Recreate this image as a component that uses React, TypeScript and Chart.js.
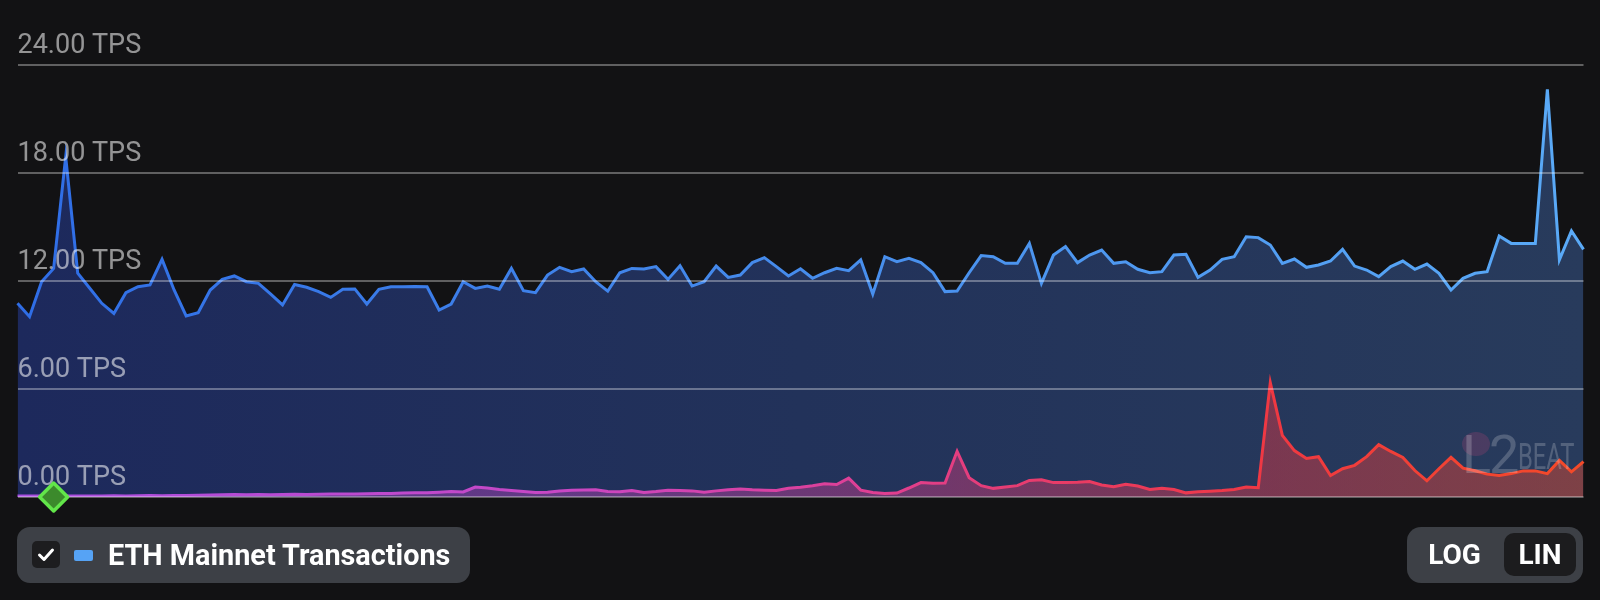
import React, { useEffect, useRef } from "react";
import { Chart, registerables } from "chart.js";

Chart.register(...registerables);

// ETH Mainnet transactions per second (blue series)
const ethMainnetTps = [
  10.76, 10.02, 11.96, 12.7, 18.9, 12.43, 11.6, 10.76, 10.2, 11.35,
  11.68, 11.78, 13.2, 11.5, 10.06, 10.24, 11.5, 12.09, 12.28, 11.96,
  11.87, 11.28, 10.67, 11.81, 11.65, 11.41, 11.09, 11.54, 11.56, 10.72,
  11.54, 11.68, 11.68, 11.7, 11.68, 10.39, 10.72, 11.96, 11.59, 11.72,
  11.54, 12.7, 11.46, 11.35, 12.33, 12.76, 12.52, 12.67, 11.96, 11.44,
  12.46, 12.7, 12.67, 12.8, 12.09, 12.85, 11.72, 11.96, 12.83, 12.2,
  12.33, 13.02, 13.3, 12.8, 12.28, 12.68, 12.15, 12.46, 12.7, 12.57,
  13.17, 11.28, 13.35, 13.07, 13.26, 13.02, 12.46, 11.41, 11.44, 12.46,
  13.41, 13.35, 12.98, 12.98, 14.09, 11.87, 13.44, 13.91, 13.02, 13.44,
  13.72, 12.98, 13.07, 12.65, 12.46, 12.52, 13.44, 13.48, 12.2, 12.61,
  13.2, 13.35, 14.46, 14.41, 14.0, 12.98, 13.22, 12.76, 12.89, 13.11,
  13.76, 12.83, 12.61, 12.24, 12.8, 13.11, 12.65, 12.94, 12.43, 11.5,
  12.15, 12.43, 12.52, 14.5, 14.09, 14.09, 14.09, 22.65, 13.17, 14.78,
  13.76,
];

// Second (pink → red) series
const layer2Tps = [
  0.05, 0.05, 0.05, 0.06, 0.06, 0.05, 0.06, 0.06, 0.07, 0.06,
  0.07, 0.08, 0.07, 0.08, 0.09, 0.1, 0.11, 0.13, 0.14, 0.13,
  0.14, 0.13, 0.14, 0.15, 0.14, 0.15, 0.16, 0.17, 0.16, 0.18,
  0.2, 0.19, 0.22, 0.24, 0.23, 0.27, 0.3, 0.28, 0.55, 0.5,
  0.42, 0.36, 0.3, 0.25, 0.27, 0.33, 0.38, 0.39, 0.4, 0.31,
  0.29, 0.36, 0.25, 0.3, 0.38, 0.36, 0.34, 0.27, 0.34, 0.4,
  0.44, 0.4, 0.38, 0.36, 0.48, 0.54, 0.62, 0.73, 0.69, 1.05,
  0.38, 0.25, 0.19, 0.22, 0.5, 0.8, 0.77, 0.78, 2.54, 1.07,
  0.63, 0.48, 0.55, 0.63, 0.92, 0.96, 0.8, 0.8, 0.82, 0.86,
  0.67, 0.57, 0.71, 0.61, 0.42, 0.48, 0.42, 0.23, 0.29, 0.32,
  0.36, 0.42, 0.55, 0.52, 6.35, 3.42, 2.58, 2.14, 2.24, 1.19,
  1.57, 1.76, 2.24, 2.91, 2.53, 2.2, 1.47, 0.9, 1.57, 2.2,
  1.6, 1.46, 1.27, 1.2, 1.3, 1.45, 1.45, 1.3, 2.03, 1.4,
  1.96,
];

const categories = ethMainnetTps.map((_, i) => `Day ${i + 1}`);
const yTickValues = [0, 6, 12, 18, 24];
const milestoneIndex = 3;
const legendLabel = "ETH Mainnet Transactions";
const scaleOptions = ["LOG", "LIN"];

type Stop = [number, string];

function hGrad(chart: any, stops: Stop[]) {
  const { ctx, chartArea } = chart;
  if (!chartArea) return stops[0][1];
  const g = ctx.createLinearGradient(chartArea.left, 0, chartArea.right, 0);
  stops.forEach(([o, c]) => g.addColorStop(o, c));
  return g;
}

const milestonePlugin = {
  id: "milestone",
  afterDraw(chart: any) {
    const x = chart.scales.x.getPixelForValue(milestoneIndex);
    const y = chart.scales.y.getPixelForValue(0);
    const c = chart.ctx;
    const r = 14;
    c.save();
    c.beginPath();
    c.moveTo(x, y - r);
    c.lineTo(x + r, y);
    c.lineTo(x, y + r);
    c.lineTo(x - r, y);
    c.closePath();
    c.fillStyle = "#3c8a2c";
    c.fill();
    c.lineWidth = 3.5;
    c.lineJoin = "round";
    c.strokeStyle = "#62e64a";
    c.stroke();
    c.restore();
  },
};

function ChartCanvas() {
  const ref = useRef<HTMLCanvasElement | null>(null);
  useEffect(() => {
    if (!ref.current) return;
    const chart = new Chart(ref.current, {
      type: "line",
      data: {
        labels: categories,
        datasets: [
          {
            label: "L2",
            data: layer2Tps,
            order: 1,
            borderWidth: 3,
            pointRadius: 0,
            tension: 0,
            fill: "origin",
            borderColor: (ctx: any) =>
              hGrad(ctx.chart, [
                [0, "#a84ee0"],
                [0.35, "#c947c4"],
                [0.55, "#e03f92"],
                [0.68, "#ea3b62"],
                [0.8, "#ef3842"],
                [1, "#f44a28"],
              ]),
            backgroundColor: (ctx: any) =>
              hGrad(ctx.chart, [
                [0, "rgba(168,78,224,0.38)"],
                [0.35, "rgba(201,71,196,0.4)"],
                [0.55, "rgba(224,63,146,0.4)"],
                [0.68, "rgba(234,59,98,0.42)"],
                [0.8, "rgba(239,56,66,0.42)"],
                [1, "rgba(244,74,40,0.42)"],
              ]),
          },
          {
            label: legendLabel,
            data: ethMainnetTps,
            order: 2,
            borderWidth: 3,
            pointRadius: 0,
            tension: 0,
            fill: "origin",
            borderColor: (ctx: any) =>
              hGrad(ctx.chart, [
                [0, "#2f6de6"],
                [0.5, "#468cec"],
                [1, "#5aaaf7"],
              ]),
            backgroundColor: (ctx: any) =>
              hGrad(ctx.chart, [
                [0, "rgb(29,41,92)"],
                [0.5, "rgb(34,50,90)"],
                [1, "rgb(40,59,92)"],
              ]),
          },
        ],
      },
      options: {
        responsive: false,
        animation: false,
        layout: { padding: { left: 17.5, right: 16.5, top: 65, bottom: 103 } },
        plugins: { legend: { display: false }, tooltip: { enabled: false } },
        scales: {
          x: { display: false },
          y: {
            min: 0,
            max: 24,
            position: "left",
            border: { display: false },
            afterFit: (s: any) => {
              s.width = 0;
            },
            afterBuildTicks: (s: any) => {
              s.ticks = yTickValues.map((v) => ({ value: v }));
            },
            grid: {
              z: 1,
              drawTicks: false,
              color: "rgba(255,255,255,0.33)",
              lineWidth: 2,
            },
            ticks: {
              z: 2,
              mirror: true,
              padding: 0,
              labelOffset: -19,
              color: "rgba(255,255,255,0.55)",
              font: { family: "Roboto", size: 27 },
              callback: (v: any) => `${Number(v).toFixed(2)} TPS`,
            },
          },
        },
      },
      plugins: [milestonePlugin],
    });
    return () => chart.destroy();
  }, []);
  return (
    <canvas
      ref={ref}
      width={1600}
      height={600}
      style={{ position: "absolute", left: 0, top: 0, width: 1600, height: 600 }}
    />
  );
}

export default function App() {
  return (
    <div style={{ position: "fixed", inset: 0, background: "#121214" }}>
      <div style={{ position: "relative", width: 1600, height: 600, fontFamily: "Roboto, sans-serif" }}>
        <ChartCanvas />
        {/* watermark */}
        <div
          style={{
            position: "absolute",
            left: 1462,
            top: 428,
            height: 54,
            display: "flex",
            alignItems: "flex-end",
            color: "rgba(255,255,255,0.2)",
            pointerEvents: "none",
          }}
        >
          <span
            style={{
              position: "absolute",
              left: 0,
              top: 4,
              width: 28,
              height: 24,
              borderRadius: "50%",
              background: "rgba(236,72,130,0.18)",
            }}
          />
          <span style={{ fontSize: 54, fontWeight: 400, lineHeight: 1, position: "relative", letterSpacing: -2 }}>L2</span>
          <span
            style={{
              fontSize: 36,
              fontWeight: 400,
              lineHeight: 1,
              display: "inline-block",
              transform: "scaleX(0.66)",
              transformOrigin: "left bottom",
              marginBottom: 7,
              marginLeft: 1,
            }}
          >
            BEAT
          </span>
        </div>
        {/* legend */}
        <div
          style={{
            position: "absolute",
            left: 17,
            top: 527,
            width: 453,
            height: 56,
            borderRadius: 13,
            background: "#3d4046",
          }}
        >
          <div
            style={{
              position: "absolute",
              left: 15,
              top: 14,
              width: 28,
              height: 27,
              borderRadius: 5,
              background: "#1d1d1f",
            }}
          >
            <svg width="28" height="27" viewBox="0 0 28 27">
              <path d="M7.5 14 L12 18.5 L20.5 9" stroke="#fff" strokeWidth="3" fill="none" strokeLinecap="round" strokeLinejoin="round" />
            </svg>
          </div>
          <div
            style={{
              position: "absolute",
              left: 57,
              top: 22.5,
              width: 19,
              height: 11,
              borderRadius: 2,
              background: "#56a3f5",
            }}
          />
          <div
            style={{
              position: "absolute",
              left: 91,
              top: 0,
              height: 56,
              lineHeight: "56px",
              fontSize: 28.8,
              fontWeight: 700,
              color: "#ffffff",
              whiteSpace: "nowrap",
            }}
          >
            {legendLabel}
          </div>
        </div>
        {/* scale toggle */}
        <div
          style={{
            position: "absolute",
            left: 1407,
            top: 527,
            width: 176,
            height: 56,
            borderRadius: 14,
            background: "#3d4046",
          }}
        >
          <div
            style={{
              position: "absolute",
              left: 97,
              top: 6,
              width: 72,
              height: 43,
              borderRadius: 10,
              background: "#1c1c1e",
            }}
          />
          <div style={{ position: "absolute", left: 0, top: 0, width: 95, height: 56, lineHeight: "56px", textAlign: "center", fontSize: 28, fontWeight: 700, color: "#fff" }}>
            {scaleOptions[0]}
          </div>
          <div style={{ position: "absolute", left: 97, top: 0, width: 72, height: 56, lineHeight: "56px", textAlign: "center", fontSize: 28, fontWeight: 700, color: "#fff" }}>
            {scaleOptions[1]}
          </div>
        </div>
      </div>
    </div>
  );
}
